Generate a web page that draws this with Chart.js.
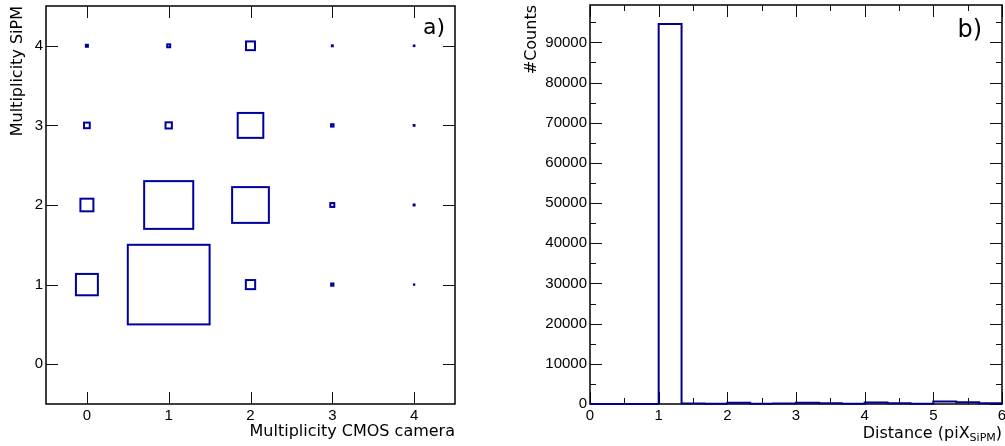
<!DOCTYPE html>
<html>
<head>
<meta charset="utf-8">
<script src="https://cdn.jsdelivr.net/npm/chart.js@4.4.1/dist/chart.umd.min.js"></script>
<style>
  body { margin: 0; background: #fff; overflow: hidden; }
  .panel { position: absolute; top: 0; }
  #boxPanel { left: 0; }
  #distPanel { left: 520px; }
</style>
</head>
<body>
<div class="panel" id="boxPanel"><canvas id="boxChart" width="480" height="446"></canvas></div>
<div class="panel" id="distPanel"><canvas id="distChart" width="485" height="446"></canvas></div>
<script>
// a) CMOS camera multiplicity vs SiPM multiplicity, entries per cell
const cmosMult = [0, 1, 2, 3, 4];
const sipmMult = [1, 2, 3, 4];
const sipm1 = [3600, 50000, 650, 40, 1];
const sipm2 = [1260, 18000, 10100, 120, 7];
const sipm3 = [245, 300, 4900, 45, 5];
const sipm4 = [30, 67, 600, 7, 3];
const multTicks = [0, 1, 2, 3, 4];

// b) distance between hits, 1/3 pixel bins
const distEdges = [0, 1/3, 2/3, 1, 4/3, 5/3, 2, 7/3, 8/3, 3, 10/3, 11/3, 4, 13/3, 14/3, 5, 16/3, 17/3, 6];
const distCounts = [0, 0, 0, 94560, 150, 40, 320, 80, 120, 300, 160, 40, 380, 200, 40, 600, 420, 180];
const distTicks = [0, 1, 2, 3, 4, 5, 6];
const distMinor = [0.5, 1.5, 2.5, 3.5, 4.5, 5.5];
const countTicks = [0, 10000, 20000, 30000, 40000, 50000, 60000, 70000, 80000, 90000];
const countMinor = [5000, 15000, 25000, 35000, 45000, 55000, 65000, 75000, 85000, 95000];

// x title of b) with a subscript: [text, font size, baseline shift]
const distTitleParts = [['Distance (piX', 16, 0], ['SiPM', 11, 3], [')', 16, 0]];

const tickFont = { family: 'Liberation Sans', size: 15 };
const titleFont = { family: 'DejaVu Sans', size: 16 };

const sipmRows = [sipm1, sipm2, sipm3, sipm4];
const cells = [];
sipmRows.forEach((row, j) => {
    row.forEach((v, i) => cells.push({ x: cmosMult[i], y: sipmMult[j], v: v }));
});

const histPoints = distEdges.map((e, i) => ({
    x: e,
    y: distCounts[Math.min(i, distCounts.length - 1)]
}));

// frame around the plot area with inward ticks on all four sides, plus panel tag
const frameTicks = {
    id: 'frameTicks',
    beforeDatasetsDraw(chart, args, opts) {
        const { ctx, chartArea: a, scales: { x, y } } = chart;
        ctx.save();
        ctx.strokeStyle = '#111';
        ctx.lineWidth = 1;
        const seg = (x1, y1, x2, y2) => {
            ctx.beginPath();
            ctx.moveTo(x1, y1);
            ctx.lineTo(x2, y2);
            ctx.stroke();
        };
        const xMarks = (vals, len) => vals.forEach(v => {
            const px = Math.round(x.getPixelForValue(v)) + 0.5;
            seg(px, a.bottom, px, a.bottom - len);
            seg(px, a.top, px, a.top + len);
        });
        const yMarks = (vals, len) => vals.forEach(v => {
            const py = Math.round(y.getPixelForValue(v)) + 0.5;
            seg(a.left, py, a.left + len, py);
            seg(a.right, py, a.right - len, py);
        });
        xMarks(opts.xMajor, 12);
        yMarks(opts.yMajor, 12);
        xMarks(opts.xMinor || [], 6);
        yMarks(opts.yMinor || [], 6);
        ctx.strokeStyle = '#000';
        ctx.lineWidth = 1.5;
        ctx.strokeRect(a.left, a.top, a.right - a.left, a.bottom - a.top);
        ctx.restore();
    },
    afterDraw(chart, args, opts) {
        const { ctx, chartArea: a } = chart;
        ctx.save();
        ctx.fillStyle = '#000';
        ctx.font = opts.tagSize + 'px "DejaVu Sans"';
        ctx.textAlign = 'right';
        ctx.textBaseline = 'middle';
        ctx.fillText(opts.tag, a.right - opts.tagRight, a.top + opts.tagTop);

        // x title with a subscript, right aligned to the plot area
        if (opts.subTitle) {
            ctx.textAlign = 'left';
            ctx.textBaseline = 'alphabetic';
            let w = 0;
            distTitleParts.forEach(([text, size]) => {
                ctx.font = size + 'px "DejaVu Sans"';
                w += ctx.measureText(text).width;
            });
            let px = a.right - w;
            const base = chart.height - 8;
            distTitleParts.forEach(([text, size, shift]) => {
                ctx.font = size + 'px "DejaVu Sans"';
                ctx.fillText(text, px, base + shift);
                px += ctx.measureText(text).width;
            });
        }
        ctx.restore();
    }
};

// ROOT style BOX drawing: box area proportional to the cell content
const cellBoxes = {
    id: 'cellBoxes',
    afterDatasetsDraw(chart) {
        const { ctx, scales: { x, y } } = chart;
        const ds = chart.data.datasets[0];
        const vmax = Math.max(...ds.data.map(d => d.v));
        ctx.save();
        ctx.strokeStyle = ds.borderColor;
        ctx.lineWidth = ds.borderWidth;
        ds.data.forEach(d => {
            const h = Math.sqrt(d.v / vmax) / 2;
            const x0 = x.getPixelForValue(d.x - h);
            const x1 = x.getPixelForValue(d.x + h);
            const y0 = y.getPixelForValue(d.y + h);
            const y1 = y.getPixelForValue(d.y - h);
            ctx.strokeRect(x0, y0, x1 - x0, y1 - y0);
        });
        ctx.restore();
    }
};

function fixedTicks(vals) {
    return s => { s.ticks = vals.map(v => ({ value: v })); };
}

function axis(min, max, ticks, title, isX, size, titlePad) {
    return {
        type: 'linear',
        min: min,
        max: max,
        grid: { display: false, drawTicks: false },
        border: { display: false },
        afterBuildTicks: fixedTicks(ticks),
        afterFit: s => {
            if (isX) { s.height = size; } else { s.width = size; }
            s.paddingLeft = 0; s.paddingRight = 0;
            s.paddingTop = 0; s.paddingBottom = 0;
        },
        ticks: {
            font: tickFont, color: '#000', padding: 3, maxRotation: 0,
            callback: v => String(v)
        },
        title: {
            display: title !== '', text: title, align: 'end', font: titleFont, color: '#000',
            padding: isX ? { top: 0, bottom: titlePad } : { top: titlePad, bottom: 0 }
        }
    };
}

new Chart(document.getElementById('boxChart'), {
    type: 'scatter',
    data: {
        datasets: [{
            data: cells,
            pointRadius: 0,
            showLine: false,
            borderColor: '#0000a0',
            borderWidth: 2
        }]
    },
    options: {
        responsive: false,
        animation: false,
        events: [],
        layout: { padding: { top: 6, right: 25, left: 0, bottom: 0 } },
        plugins: {
            legend: { display: false },
            tooltip: { enabled: false },
            frameTicks: { xMajor: multTicks, yMajor: multTicks, tag: 'a)', tagSize: 22, tagRight: 10, tagTop: 22 }
        },
        scales: {
            x: axis(-0.5, 4.5, multTicks, 'Multiplicity CMOS camera', true, 42, 4.4),
            y: axis(-0.5, 4.5, multTicks, 'Multiplicity SiPM', false, 46, 8.4)
        }
    },
    plugins: [frameTicks, cellBoxes]
});

new Chart(document.getElementById('distChart'), {
    type: 'line',
    data: {
        datasets: [{
            data: histPoints,
            stepped: true,
            borderColor: '#000088',
            borderWidth: 2,
            pointRadius: 0,
            fill: false,
            clip: 4
        }]
    },
    options: {
        responsive: false,
        animation: false,
        events: [],
        layout: { padding: { top: 5, right: 3, left: 0, bottom: 0 } },
        plugins: {
            legend: { display: false },
            tooltip: { enabled: false },
            frameTicks: {
                xMajor: distTicks, xMinor: distMinor, yMajor: countTicks, yMinor: countMinor,
                tag: 'b)', tagSize: 24, tagRight: 20, tagTop: 26, subTitle: true
            }
        },
        scales: {
            x: axis(0, 6, distTicks, '', true, 42, 4.4),
            y: axis(0, 99300, countTicks, '#Counts', false, 70, 2.4)
        }
    },
    plugins: [frameTicks]
});
</script>
</body>
</html>
